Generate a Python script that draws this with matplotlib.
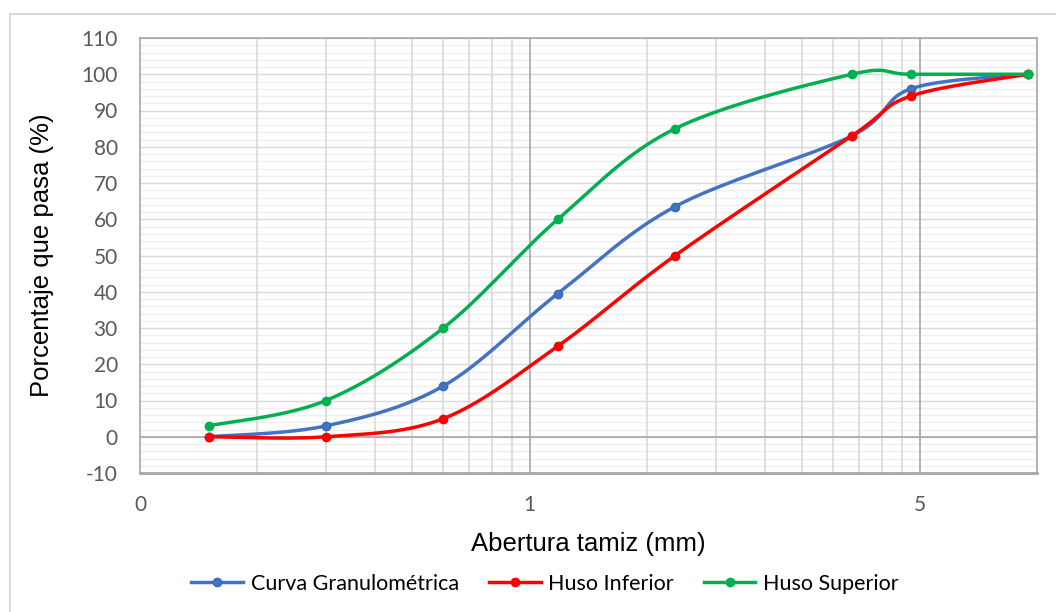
import numpy as np
import matplotlib
matplotlib.use("Agg")
import matplotlib.pyplot as plt
from matplotlib.patches import Rectangle

plt.rcParams["axes.unicode_minus"] = False

# sieve openings (mm) and percent passing
abertura = [0.15, 0.3, 0.6, 1.18, 2.36, 6.7, 9.5, 19.0]
curva = [0, 3, 14, 39.5, 63.5, 83, 96, 100]
huso_inf = [0, 0, 5, 25, 50, 83, 94, 100]
huso_sup = [3, 10, 30, 60, 85, 100, 100, 100]

series = [
    ("Curva Granulométrica", curva, "#4472C4", "#2E6DB8"),
    ("Huso Inferior", huso_inf, "#FF0000", "#FF0000"),
    ("Huso Superior", huso_sup, "#00B050", "#00B050"),
]

x_ticks = [0.1, 1, 10]
x_tick_labels = ["0", "1", "5"]
y_ticks = list(range(-10, 111, 10))

CALIBRI = ["Lato", "DejaVu Sans"]
ARIAL = ["Liberation Sans", "DejaVu Sans"]


def smooth(xs, ys, n=40):
    """Excel style smoothed line (catmull-rom bezier) in log-x space"""
    px = np.log10(np.asarray(xs, float))
    py = np.asarray(ys, float)
    P = np.column_stack([px, py])
    P = np.vstack([P[0], P, P[-1]])
    out = []
    t = np.linspace(0, 1, n)[:, None]
    for i in range(1, len(P) - 2):
        p0, p1, p2, p3 = P[i - 1], P[i], P[i + 1], P[i + 2]
        c1 = p1 + (p2 - p0) / 6
        c2 = p2 - (p3 - p1) / 6
        seg = ((1 - t) ** 3) * p1 + 3 * ((1 - t) ** 2) * t * c1 + 3 * (1 - t) * t ** 2 * c2 + t ** 3 * p2
        out.append(seg if i == 1 else seg[1:])
    out = np.vstack(out)
    return 10 ** out[:, 0], out[:, 1]


fig = plt.figure(figsize=(10.56, 6.12), dpi=100)
# outer chart border
fig.patches.append(Rectangle((10 / 1056, -0.1), 1.2, 1 - 14 / 612 + 0.1, transform=fig.transFigure,
                             fill=False, edgecolor="#D9D9D9", linewidth=1.5))
ax = fig.add_axes([140 / 1056, 1 - 473 / 612, (1037 - 140) / 1056, (473 - 38) / 612])

ax.set_xscale("log")
ax.set_xlim(0.1, 20)
ax.set_ylim(-10, 110)

# gridlines
for yv in np.arange(-10, 111, 2):
    if yv % 10 != 0:
        ax.axhline(yv, color="#EFEFEF", lw=1, zorder=0)
for yv in y_ticks:
    ax.axhline(yv, color="#D9D9D9", lw=1, zorder=0.5)
for dec in [0.1, 1, 10]:
    for k in range(2, 10):
        xv = k * dec
        if xv < 20:
            ax.axvline(xv, color="#D9D9D9", lw=1.2, zorder=0.6)
for xv in [1, 10]:
    ax.axvline(xv, color="#A6A6A6", lw=1.2, zorder=0.7)
ax.axhline(0, color="#A6A6A6", lw=1.2, zorder=0.7)

for name, vals, col, edge in series:
    sx, sy = smooth(abertura, vals)
    ax.plot(sx, sy, color=col, lw=2.5, zorder=3, solid_capstyle="round")
    ax.plot(abertura, vals, "o", color=col, markeredgecolor=edge, markersize=6, zorder=4)

for sp in ax.spines.values():
    sp.set_color("#A6A6A6")
    sp.set_linewidth(1.2)
ax.spines["bottom"].set_linewidth(2)

ax.set_xticks(x_ticks)
ax.set_xticklabels(x_tick_labels)
ax.xaxis.set_minor_locator(matplotlib.ticker.NullLocator())
ax.set_yticks(y_ticks)
ax.tick_params(length=0, labelsize=15, colors="#595959")
for lab in ax.get_xticklabels() + ax.get_yticklabels():
    lab.set_family(CALIBRI)
ax.tick_params(axis="x", pad=16)
ax.tick_params(axis="y", pad=16)

ax.set_xlabel("Abertura tamiz (mm)", fontsize=18.5, family=ARIAL, labelpad=12)
ax.set_ylabel("Porcentaje que pasa (%)", fontsize=18.5, family=ARIAL, labelpad=20)

handles = [
    plt.Line2D([], [], color=col, lw=2.5, marker="o", markersize=6, markeredgecolor=edge)
    for name, vals, col, edge in series
]
fig.legend(handles, [s[0] for s in series], loc="center", bbox_to_anchor=(545 / 1056, 1 - 584 / 612),
           ncol=3, frameon=False, prop={"family": CALIBRI, "size": 15.5}, handlelength=2.4,
           handletextpad=0.35, columnspacing=1.4)

fig.savefig("out.png", dpi=100)
